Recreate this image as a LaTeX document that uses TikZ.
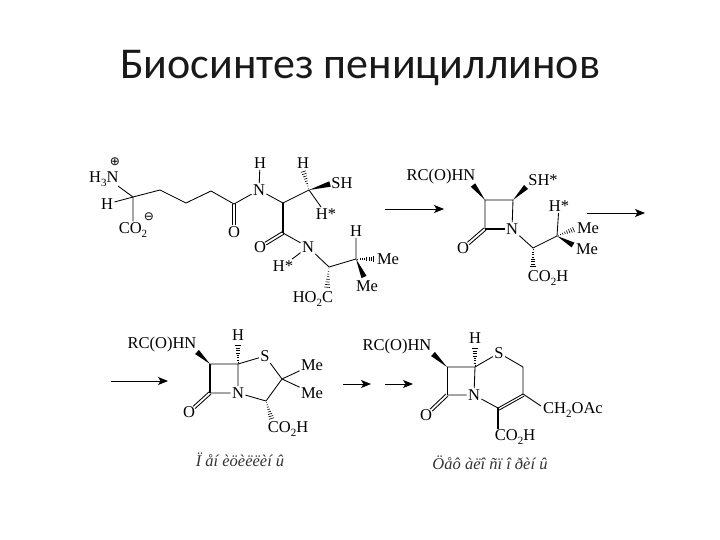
\documentclass[tikz,border=0pt]{standalone}
\usepackage{fontspec}
\setmainfont{Liberation Serif}
\newfontfamily\titlefont{Carlito}
\newfontfamily\symfont{DejaVu Sans}
\usetikzlibrary{calc,arrows.meta}
\newcommand\sbt[1]{\raisebox{-0.45ex}{\fontsize{11}{11}\selectfont #1}}
\newcommand\wedgeb[2]{\fill[black] (#1) -- ($(#2)!2.8pt!90:(#1)$) -- ($(#2)!2.8pt!-90:(#1)$) -- cycle;}
\newcommand\hashb[2]{\foreach \t in {0.08,0.2,...,1.0}{\coordinate (hp) at ($(#1)!\t!(#2)$);\draw[line width=0.6pt] ($(hp)!3pt*\t!90:(#2)$) -- ($(hp)!3pt*\t!-90:(#2)$);}}
\newcommand\dblb[2]{\coordinate (dq) at ($(#1)!0.76!(#2)$);\draw[bond] ($(#1)!1.5pt!90:(dq)$) -- ($(dq)!1.5pt!-90:(#1)$) ($(#1)!1.5pt!-90:(dq)$) -- ($(dq)!1.5pt!90:(#1)$);}
\tikzset{
  lbl/.style={inner sep=0pt,outer sep=1.5pt,font=\fontsize{16.5}{17}\selectfont,text=black},
  bond/.style={line width=0.85pt,black},
  boldbond/.style={line width=1.9pt,black},
  rarrow/.style={line width=0.9pt,-{Stealth[length=10pt,width=8pt,inset=2.5pt]}},
  captext/.style={inner sep=0pt,font=\fontsize{16.5}{17}\selectfont\itshape,text=black!80},
}
\begin{document}
\begin{tikzpicture}[x=1pt,y=-1pt]
\useasboundingbox (0,0) rectangle (720,540);
\node[inner sep=0pt,font=\fontsize{44}{48}\selectfont\titlefont,text=black!90] (title) at (360,68) {Биосинтез пенициллинов};

% --- molecule 1
\node[lbl,anchor=east] (n1) at (120,179) {H\sbt{3}N};
\node[inner sep=0pt,font=\fontsize{12}{12}\selectfont\symfont] (plus) at (115,162) {⊕};
\node[lbl] (h1) at (107,204) {H};
\node[lbl] (co1) at (133,230) {CO\sbt{2}};
\node[inner sep=0pt,font=\fontsize{12}{12}\selectfont\symfont] (minus) at (149,217) {⊖};
\coordinate (a1) at (133,197); \coordinate (a2) at (160,190); \coordinate (a3) at (186,203);
\coordinate (a4) at (211,191); \coordinate (a5) at (234,204);
\node[lbl] (n2) at (259,190) {N};
\node[lbl] (h2) at (260,163) {H};
\node[lbl] (o1) at (234,232) {O};
\coordinate (a6) at (283,203); \coordinate (a7) at (309,190);
\node[lbl] (sh) at (342,183) {SH};
\node[lbl] (h3) at (303,163) {H};
\node[lbl] (hs1) at (326,214) {H*};
\coordinate (a8) at (283,233);
\node[lbl] (o2) at (260,247) {O};
\node[lbl] (n3) at (308,247) {N};
\node[lbl] (hs2) at (283,266) {H*};
\coordinate (a9) at (329,267); \coordinate (a10) at (356,259);
\node[lbl] (h4) at (356,231) {H};
\node[lbl] (me1) at (388,259) {Me};
\node[lbl] (me2) at (367,286) {Me};
\node[lbl] (ho) at (313,299) {HO\sbt{2}C};
\coordinate (hoa) at (327,289); \coordinate (me1a) at (375,259); \coordinate (me2a) at (364,277);
\coordinate (sha) at (330,184); \coordinate (h3a) at (303,170); \coordinate (n1a) at (118,186);
\draw[bond] (n1a) -- (a1) (h1) -- (a1) (a1) -- (co1) (a1) -- (a2) -- (a3) -- (a4) -- (a5) -- (n2) -- (a6) -- (a7) (n2) -- (h2);
\dblb{a5}{o1}
\draw[bond] (a7) -- (hs1);
\draw[boldbond] (a6) -- (a8);
\draw[bond] (a8) -- (n3) (n3) -- (hs2) (n3) -- (a9) -- (a10) -- (h4);
\dblb{a8}{o2}
\wedgeb{a7}{sha}
\hashb{a7}{h3a}
\hashb{a10}{me1a}
\wedgeb{a10}{me2a}
\hashb{a9}{hoa}

\coordinate (ar1a) at (385,209); \coordinate (ar1b) at (444,209);
\draw[rarrow] (ar1a) -- (ar1b);

% --- molecule 2
\node[lbl] (r2) at (441,177) {RC(O)HN};
\coordinate (b1) at (485,200); \coordinate (b2) at (513,200); \coordinate (b3) at (485,229);
\node[lbl] (n4) at (512,229) {N};
\node[lbl] (o3) at (463,248) {O};
\node[lbl] (sh2) at (543,180) {SH*};
\coordinate (b4) at (533,248); \coordinate (b5) at (557,236);
\node[lbl] (hs3) at (559,206) {H*};
\node[lbl] (me3) at (588,228) {Me};
\node[lbl] (me4) at (587,249) {Me};
\node[lbl] (co2) at (548,278) {CO\sbt{2}H};
\coordinate (r2a) at (473,185); \coordinate (sh2a) at (526,187); \coordinate (me3a) at (575,229); \coordinate (me4a) at (573,245); \coordinate (co2a) at (533,268);
\draw[bond] (b1) -- (b2) (b1) -- (b3) (b2) -- (n4) (n4) -- (b4) -- (b5) -- (hs3);
\draw[boldbond] (b3) -- (n4);
\dblb{b3}{o3}
\wedgeb{b1}{r2a}
\wedgeb{b2}{sh2a}
\hashb{b5}{me3a}
\wedgeb{b5}{me4a}
\hashb{b4}{co2a}
\coordinate (ar2a) at (587,213); \coordinate (ar2b) at (645,213);
\draw[rarrow] (ar2a) -- (ar2b);

% --- penicillin
\coordinate (ar3a) at (111,381); \coordinate (ar3b) at (168,381);
\draw[rarrow] (ar3a) -- (ar3b);
\node[lbl] (r3) at (162,345) {RC(O)HN};
\coordinate (c1) at (210,364); \coordinate (c2) at (238,364); \coordinate (c3) at (210,393);
\node[lbl] (n5) at (238,393) {N};
\node[lbl] (o4) at (189,412) {O};
\node[lbl] (h5) at (238,335) {H};
\node[lbl] (s1) at (265,356) {S};
\coordinate (c4) at (282,379); \coordinate (c5) at (266,401);
\node[lbl] (me5) at (312,365) {Me};
\node[lbl] (me6) at (312,393) {Me};
\node[lbl] (co3) at (288,429) {CO\sbt{2}H};
\coordinate (r3a) at (197,352); \coordinate (h5a) at (238,344); \coordinate (co3a) at (272,420);
\draw[bond] (c1) -- (c2) -- (n5) -- (c3) (c2) -- (s1) -- (c4) -- (c5) -- (n5) (c4) -- (me5) (c4) -- (me6);
\draw[boldbond] (c1) -- (c3);
\dblb{c3}{o4}
\wedgeb{c1}{r3a}
\hashb{c2}{h5a}
\hashb{c5}{co3a}
\node[captext] (cp1) at (240,460) {Ï åí èöèëëèí û};

% --- cephalosporin
\coordinate (ar4a) at (343,384); \coordinate (ar4b) at (371,384);
\coordinate (ar5a) at (385,384); \coordinate (ar5b) at (413,384);
\draw[rarrow] (ar4a) -- (ar4b);
\draw[rarrow] (ar5a) -- (ar5b);
\node[lbl] (r4) at (397,347) {RC(O)HN};
\coordinate (d1) at (447,367); \coordinate (d2) at (475,367); \coordinate (d3) at (447,395);
\node[lbl] (n6) at (474,395) {N};
\node[lbl] (o5) at (426,415) {O};
\node[lbl] (h6) at (475,338) {H};
\node[lbl] (s2) at (499,353) {S};
\coordinate (d4) at (523,367); \coordinate (d5) at (523,394); \coordinate (d6) at (498,408);
\node[lbl] (ch) at (573,410) {CH\sbt{2}OAc};
\node[lbl] (co4) at (515,437) {CO\sbt{2}H};
\coordinate (r4a) at (433,354); \coordinate (h6a) at (475,347); \coordinate (cha) at (541,406); \coordinate (co4a) at (498,429);
\draw[bond] (d1) -- (d2) -- (n6) -- (d3) (d2) -- (s2) -- (d4) -- (d5) (n6) -- (d6) (d5) -- (cha);
\draw[bond] (d1) -- (d3);
\draw[bond] (d5) -- (d6);
\draw[bond] ($(d5)!2.4pt!90:(d6)$) -- ($(d6)!2.4pt!-90:(d5)$);
\draw[boldbond] (d6) -- (co4a);
\dblb{d3}{o5}
\wedgeb{d1}{r4a}
\hashb{d2}{h6a}
\node[captext] (cp2) at (490,463) {Öåô àëî ñï î ðèí û};
\end{tikzpicture}
\end{document}
